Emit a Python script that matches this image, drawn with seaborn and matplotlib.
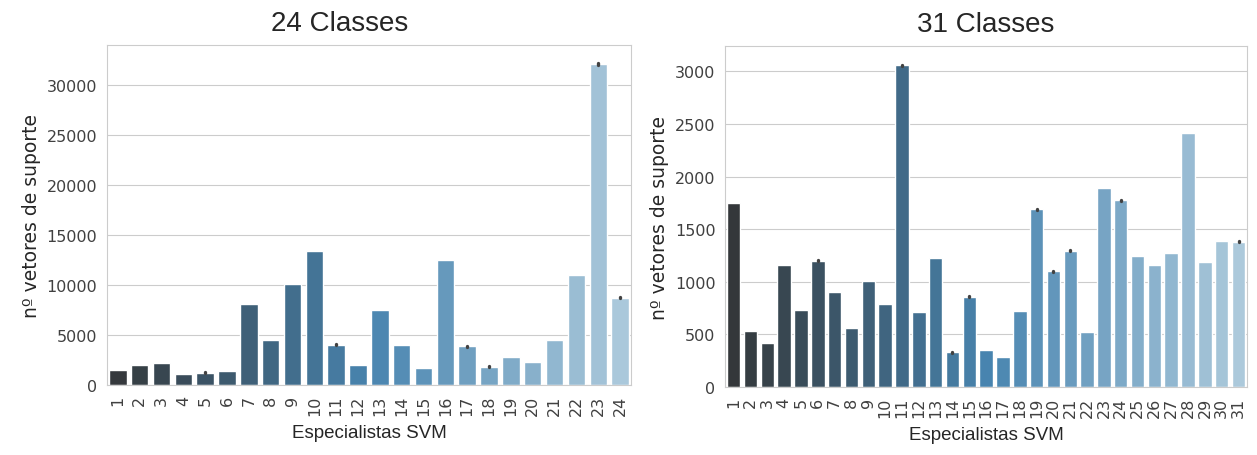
import seaborn as sns
import matplotlib.pyplot as plt
import pandas as pd

# --------------------------
# 1. Data
# --------------------------
labels_24 = [str(i) for i in range(1, 25)]
svs_24 = [1520, 2020, 2190, 1100, 1260, 1430, 8100, 4550, 10120, 13400,
          4050, 2060, 7470, 4050, 1730, 12480, 3880, 1860, 2790, 2360,
          4510, 11050, 32100, 8730]
spread_24 = [0, 0, 0, 0, 40, 0, 0, 0, 0, 0,
             40, 0, 0, 0, 0, 0, 40, 40, 0, 0,
             0, 0, 40, 40]

labels_31 = [str(i) for i in range(1, 32)]
svs_31 = [1750, 535, 420, 1160, 730, 1200, 905, 565, 1010, 790,
          3055, 715, 1230, 330, 860, 355, 285, 725, 1690, 1100,
          1295, 520, 1895, 1775, 1245, 1160, 1275, 2415, 1185, 1390,
          1380]
spread_31 = [0, 0, 0, 0, 0, 4, 0, 0, 0, 0,
             4, 0, 0, 4, 4, 0, 0, 0, 4, 4,
             4, 0, 0, 4, 0, 0, 0, 0, 0, 0,
             4]


def runs_frame(labels, means, spreads):
    # one row per run; bars with spread get two runs around the mean
    rows = []
    for lab, m, s in zip(labels, means, spreads):
        if s:
            rows.append((lab, m - s))
            rows.append((lab, m + s))
        else:
            rows.append((lab, m))
    return pd.DataFrame(rows, columns=["especialista", "n_sv"])


df24 = runs_frame(labels_24, svs_24, spread_24)
df31 = runs_frame(labels_31, svs_31, spread_31)

# --------------------------
# 2. Style
# --------------------------
sns.set_style("whitegrid")
plt.rcParams["font.family"] = ["DejaVu Sans"]

fig = plt.figure(figsize=(12.57, 4.56), dpi=100)
ax1 = fig.add_axes([0.085, 0.153, 0.417, 0.746])
ax2 = fig.add_axes([0.577, 0.149, 0.415, 0.748])

panels = [
    (ax1, df24, labels_24, "24 Classes", 34000, 0.445),
    (ax2, df31, labels_31, "31 Classes", 3240, 0.5),
]

for ax, df, labels, title, ymax, tx in panels:
    # dark to light blues
    pal = sns.color_palette("Blues_d", len(labels))[::-1]
    sns.barplot(data=df, x="especialista", y="n_sv", hue="especialista",
                order=labels, hue_order=labels, palette=pal, legend=False,
                errorbar="sd", err_kws={"color": ".26", "linewidth": 2.4},
                ax=ax)
    ax.set_ylim(0, ymax)
    ax.set_title(title, fontsize=20, family="Liberation Sans", x=tx, pad=11)
    ax.set_xlabel("Especialistas SVM", fontsize=13.5,
                  family="Liberation Sans", labelpad=6)
    ax.set_ylabel("nº vetores de suporte", fontsize=13.5)
    ax.tick_params(axis="x", labelrotation=90, labelsize=11.5, colors=".25")
    ax.tick_params(axis="y", labelsize=11.5, colors=".25")

fig.savefig("out.png", dpi=100)
plt.close()
